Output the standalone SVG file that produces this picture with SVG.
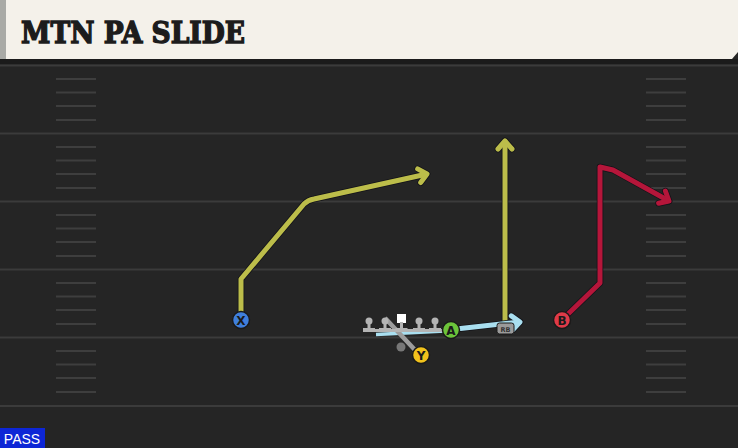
<svg xmlns="http://www.w3.org/2000/svg" width="738" height="448" viewBox="0 0 738 448">
<defs>
<style>
.yl{stroke:#3b3b3b;stroke-width:2}
.hm{stroke:#3e3e3e;stroke-width:2}
.out{fill:none;stroke:#121218;stroke-width:6.5;stroke-linejoin:round;stroke-linecap:round}
.yel{fill:none;stroke:#bcbd4a;stroke-width:5;stroke-linejoin:round}
.red{fill:none;stroke:#b5163a;stroke-width:5;stroke-linejoin:round}
.blu{fill:none;stroke:#a9dff0;stroke-width:5;stroke-linejoin:round}
.pl{stroke:#1a1a1a;stroke-width:1.5}
.lbl{font-family:"DejaVu Sans","Liberation Sans",sans-serif;font-weight:bold;font-size:12px;fill:#1a1a1a;text-anchor:middle}
.ol{fill:#b4b4b4}
</style>
<marker id="ao" markerUnits="userSpaceOnUse" markerWidth="24" markerHeight="24" refX="0" refY="0" viewBox="-12 -12 24 24" orient="auto" overflow="visible"><path d="M-8,-7 L0,0 L-8,7" fill="none" stroke="#121218" stroke-width="6.5" stroke-linejoin="round" stroke-linecap="round"/></marker>
<marker id="ay" markerUnits="userSpaceOnUse" markerWidth="24" markerHeight="24" refX="0" refY="0" viewBox="-12 -12 24 24" orient="auto" overflow="visible"><path d="M-8,-7 L0,0 L-8,7" fill="none" stroke="#bcbd4a" stroke-width="5" stroke-linejoin="round" stroke-linecap="round"/></marker>
<marker id="ar" markerUnits="userSpaceOnUse" markerWidth="24" markerHeight="24" refX="0" refY="0" viewBox="-12 -12 24 24" orient="auto" overflow="visible"><path d="M-8,-7 L0,0 L-8,7" fill="none" stroke="#b5163a" stroke-width="5" stroke-linejoin="round" stroke-linecap="round"/></marker>
<marker id="ab" markerUnits="userSpaceOnUse" markerWidth="24" markerHeight="24" refX="0" refY="0" viewBox="-12 -12 24 24" orient="auto" overflow="visible"><path d="M-8,-7 L0,0 L-8,7" fill="none" stroke="#a9dff0" stroke-width="5" stroke-linejoin="round" stroke-linecap="round"/></marker>
</defs>
<rect x="0" y="0" width="738" height="448" fill="#252525"/>
<rect x="0" y="59" width="738" height="5" fill="#1b1b1b"/>
<g id="field">
<line class="yl" x1="0" y1="65.5" x2="738" y2="65.5"/>
<line class="yl" x1="0" y1="133.5" x2="738" y2="133.5"/>
<line class="yl" x1="0" y1="201.5" x2="738" y2="201.5"/>
<line class="yl" x1="0" y1="269.5" x2="738" y2="269.5"/>
<line class="yl" x1="0" y1="337.5" x2="738" y2="337.5"/>
<line class="yl" x1="0" y1="406" x2="738" y2="406"/>
<path class="hm" d="M56,79h40M56,92.5h40M56,106h40M56,120h40M56,147h40M56,160.5h40M56,174h40M56,188h40M56,215h40M56,228.5h40M56,242h40M56,256h40M56,283h40M56,296.5h40M56,310h40M56,324h40M56,351h40M56,364.5h40M56,378h40M56,392h40"/>
<path class="hm" d="M646,79h40M646,92.5h40M646,106h40M646,120h40M646,147h40M646,160.5h40M646,174h40M646,188h40M646,215h40M646,228.5h40M646,242h40M646,256h40M646,283h40M646,296.5h40M646,310h40M646,324h40M646,351h40M646,364.5h40M646,378h40M646,392h40"/>
</g>
<g id="header">
<path d="M0,0 H738 V52 L732,59 H0 Z" fill="#f4f1ea"/>
<rect x="0" y="0" width="6" height="59" fill="#a9aaa6"/>
<text x="21" y="43" font-family="'DejaVu Serif','Liberation Serif',serif" font-weight="bold" font-size="29" fill="#1c1c1c" stroke="#1c1c1c" stroke-width="1.4" textLength="224" lengthAdjust="spacingAndGlyphs">MTN PA SLIDE</text>
</g>
<g id="connectors">
<path class="out" d="M241,312 L241,279 L304,204 Q308,200 314,199 L427,174" marker-end="url(#ao)"/>
<path class="yel" d="M241,312 L241,279 L304,204 Q308,200 314,199 L427,174" marker-end="url(#ay)"/>
<path class="out" d="M505,322 L505,141" marker-end="url(#ao)"/>
<path class="yel" d="M505,322 L505,141" marker-end="url(#ay)"/>
<path class="out" d="M566,316 L600,283 L600,167 L613,170 L669,201" marker-end="url(#ao)"/>
<path class="red" d="M566,316 L600,283 L600,167 L613,170 L669,201" marker-end="url(#ar)"/>
<path d="M376,334.5 L445,331" fill="none" stroke="#a9dff0" stroke-width="3.5"/>
<path class="out" d="M456,329 L520,322" marker-end="url(#ao)"/>
<path class="blu" d="M456,329 L520,322" marker-end="url(#ab)"/>
<line x1="385" y1="318" x2="415" y2="350" stroke="#9c9c9c" stroke-width="4.5"/>
<circle cx="401" cy="347" r="4.5" fill="#777"/>
</g>
<g id="line">
<rect x="363" y="329" width="82" height="3" class="ol"/>
<g id="ol1"><circle cx="369" cy="321" r="3.5" class="ol"/><rect x="367.5" y="321" width="3" height="9" class="ol"/><rect x="363" y="328" width="12" height="4" class="ol"/></g>
<g id="ol2"><circle cx="385" cy="321" r="3.5" class="ol"/><rect x="383.5" y="321" width="3" height="9" class="ol"/><rect x="379" y="328" width="12" height="4" class="ol"/></g>
<g id="center"><rect x="397" y="314" width="9" height="9" fill="#ffffff"/><rect x="400" y="322" width="3" height="8" class="ol"/><rect x="395.5" y="328" width="12" height="4" class="ol"/></g>
<g id="ol4"><circle cx="419" cy="321" r="3.5" class="ol"/><rect x="417.5" y="321" width="3" height="9" class="ol"/><rect x="413" y="328" width="12" height="4" class="ol"/></g>
<g id="ol5"><circle cx="435" cy="321" r="3.5" class="ol"/><rect x="433.5" y="321" width="3" height="9" class="ol"/><rect x="429" y="328" width="12" height="4" class="ol"/></g>
</g>
<g id="rb"><rect x="497" y="323" width="17" height="11" rx="2.5" fill="#9a9a9a" stroke="#1a1a1a" stroke-width="1"/><text x="505.5" y="331.5" font-family="'DejaVu Sans','Liberation Sans',sans-serif" font-size="6.5" font-weight="bold" fill="#333" text-anchor="middle">RB</text></g>
<g id="X"><circle cx="241" cy="320" r="8.5" fill="#3f7fdc" class="pl"/><text x="241" y="324.5" class="lbl">X</text></g>
<g id="A"><circle cx="451" cy="330" r="8.5" fill="#6cc43a" class="pl"/><text x="451" y="334.5" class="lbl">A</text></g>
<g id="Y"><circle cx="421" cy="355" r="8.5" fill="#f1c21c" class="pl"/><text x="421" y="359.5" class="lbl">Y</text></g>
<g id="B"><circle cx="562" cy="320" r="8.5" fill="#e03a48" class="pl"/><text x="562" y="324.5" class="lbl">B</text></g>
<g id="pass"><rect x="0" y="428" width="45" height="20" fill="#0d26d6"/><text x="22" y="444" font-family="'Liberation Sans',sans-serif" font-size="14" fill="#ffffff" text-anchor="middle">PASS</text></g>
</svg>
